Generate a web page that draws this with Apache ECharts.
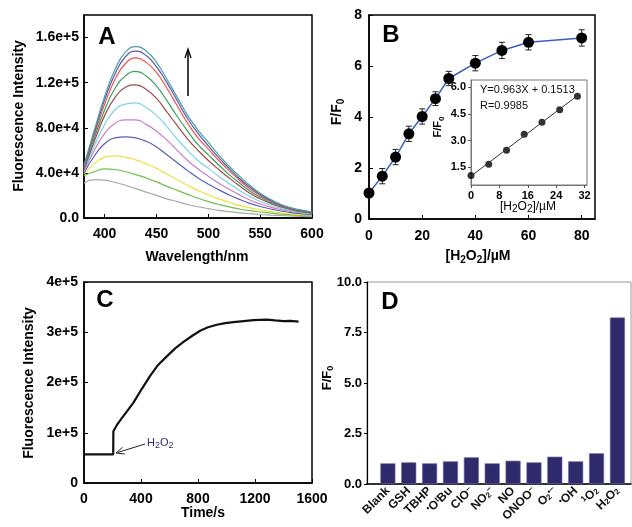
<!DOCTYPE html>
<html>
<head>
<meta charset="utf-8">
<script src="https://cdn.jsdelivr.net/npm/echarts@6/dist/echarts.min.js"></script>
<style>
  html, body { margin: 0; padding: 0; background: #fff; }
  #main { width: 632px; height: 527px; }
</style>
</head>
<body>
<div id="main"></div>
<script>
// ---- panel A: emission spectra (intensity in units of 1e3) ----
const wavelengths = [380, 390, 400, 410, 420, 430, 440, 450, 460, 470, 480, 490, 500, 510, 520, 530, 540, 550, 560, 570, 580, 590, 600];
// bottom curve first
const spectraK = [
  [31, 34, 33.5, 31.5, 29, 26, 23, 20, 17, 14.5, 12, 10, 8.3, 6.8, 5.6, 4.6, 3.8, 3.1, 2.6, 2.2, 1.8, 1.5, 1.3],
  [37.5, 41, 43.5, 43, 41, 38.5, 35.5, 32, 28, 24.5, 21, 17.5, 14.5, 12, 9.8, 8, 6.5, 5.3, 4.3, 3.5, 2.8, 2.3, 2],
  [39, 48, 54, 55, 54, 51.5, 48, 44, 39, 34, 29, 24.5, 20.5, 17, 14, 11.2, 9, 7.2, 5.8, 4.6, 3.7, 3, 2.5],
  [40, 55, 66, 71, 72, 71, 68, 63, 56, 49, 42, 35.5, 30, 25, 20.5, 16.5, 13, 10.2, 8, 6.2, 4.8, 3.8, 3],
  [41, 60, 75, 84, 87, 87, 83, 77, 69, 60, 51, 43.5, 37, 31, 25.5, 20.5, 16, 12.5, 9.6, 7.4, 5.7, 4.5, 3.6],
  [42, 64, 83, 96, 101, 102, 98, 91, 81, 70, 60, 51, 44, 37, 30.5, 24.5, 19, 14.8, 11.3, 8.6, 6.5, 5, 4],
  [43, 68, 91, 107, 116, 118, 114, 106, 94, 82, 70, 60, 51, 43, 35.5, 28.5, 22, 17, 13, 9.8, 7.3, 5.6, 4.4],
  [44, 71, 96, 115, 126, 130, 126, 117, 104, 90, 77, 65, 56, 47, 38.5, 31, 24, 18.5, 14, 10.5, 7.7, 6, 4.6],
  [45, 74, 101, 123, 137, 142, 138, 129, 115, 99.5, 84, 71, 61, 51, 42, 33.5, 26, 20, 15, 11, 8, 6.2, 4.8],
  [46, 76, 105, 128, 143, 148, 144, 134, 120, 104, 88, 75, 64, 53.5, 44, 35, 27.5, 21, 15.5, 11.5, 8.5, 6.5, 5],
  [47, 78, 108, 132, 147, 152, 148, 138, 123, 107, 91, 78, 67, 56, 46, 37, 29, 22, 16.5, 12, 9, 7, 5.5]
];
const spectraColors = ['#a8a8a8', '#6cc04a', '#efe043', '#5a5fb8', '#c77fc9', '#7dd3e8',
  '#9c4a4a', '#3d9e63', '#ef5350', '#5b58a8', '#4aa0a6'];

// ---- panel B: titration ----
const conc = [0, 5, 10, 15, 20, 25, 30, 40, 50, 60, 80];
const ratio = [1.02, 1.68, 2.43, 3.34, 4.02, 4.72, 5.51, 6.11, 6.61, 6.93, 7.1];
const ratioErr = [0.05, 0.3, 0.3, 0.3, 0.3, 0.27, 0.28, 0.3, 0.32, 0.3, 0.32];
// inset: linear range
const insetConc = [0, 5, 10, 15, 20, 25, 30];
const insetRatio = [1.04, 1.67, 2.45, 3.35, 4.02, 4.73, 5.48];
const fitLine = [[0, 1.0], [30, 5.52]];

// ---- panel C: time course ----
const times = [0, 100, 205, 206, 215, 230, 260, 300, 347, 405, 464, 520, 581, 640, 698, 760, 815, 870, 932, 990, 1049, 1120, 1190, 1283, 1340, 1400, 1450, 1506];
const timeIntensity = [57000, 57000, 57000, 103000, 104000, 115000, 127000, 142000, 160000, 187000, 213000, 235000, 252000, 268000, 281000, 293000, 303000, 310000, 315000, 318000, 320000, 322000, 324000, 325000, 323500, 322000, 322500, 321000];

// ---- panel D: selectivity ----
const agents = ['Blank', 'GSH', 'TBHP', '{p|•}O{p|t}Bu', 'ClO{p|−}', 'NO{s|2}{p|−}', 'NO', 'ONOO{p|−}',
  'O{s|2}{p|•−}', '{p|•}OH', '{p|1}O{s|2}', 'H{s|2}O{s|2}'];
const selectivity = [1.02, 1.07, 1.02, 1.12, 1.32, 1.02, 1.15, 1.07, 1.35, 1.12, 1.52, 8.24];

const FONT = 'Liberation Sans, Arial, sans-serif';
const NARROW = 'Liberation Sans Narrow, Liberation Sans, Arial, sans-serif';
const chart = echarts.init(document.getElementById('main'));

function frame(left, top, width, height, color, bw) {
  return { left, top, width, height, show: true, borderColor: color, borderWidth: bw, outerBoundsMode: 'none' };
}

function valAxis(grid, opts, tickInside, fontSize) {
  return Object.assign({
    gridIndex: grid, type: 'value',
    splitLine: { show: false },
    axisLine: { show: true, onZero: false, lineStyle: { color: '#000', width: 1.5 } },
    axisTick: { show: true, inside: tickInside, length: 4, lineStyle: { color: '#000', width: 1 } },
    axisLabel: { color: '#000', fontFamily: FONT, fontWeight: 'bold', fontSize: fontSize || 14, margin: 6 }
  }, opts);
}

const bold = (size) => ({ fontFamily: FONT, fontWeight: 'bold', fontSize: size, lineHeight: size + 4 });
const subStyle = (size) => ({ fontFamily: FONT, fontWeight: 'bold', fontSize: size, lineHeight: 8, verticalAlign: 'bottom' });

function label(x, y, text, size, rotate, extra) {
  return {
    type: 'text', x, y, rotation: rotate ? Math.PI / 2 : 0, silent: true,
    style: Object.assign({
      text, fill: '#000', align: 'center', verticalAlign: 'middle',
      font: 'bold ' + size + 'px ' + FONT,
      rich: { n: Object.assign({ fill: '#000' }, bold(size)), s: Object.assign({ fill: '#000' }, subStyle(Math.round(size * 0.72))) }
    }, extra || {})
  };
}

function arrowHead(tip, tail, len, half) {
  const dx = tail[0] - tip[0], dy = tail[1] - tip[1];
  const d = Math.sqrt(dx * dx + dy * dy);
  const ux = dx / d, uy = dy / d;
  return [[tip[0] + len * ux - half * uy, tip[1] + len * uy + half * ux], tip,
          [tip[0] + len * ux + half * uy, tip[1] + len * uy - half * ux]];
}

const series = [];
spectraK.forEach((curve, k) => {
  series.push({
    type: 'line', xAxisIndex: 0, yAxisIndex: 0, smooth: true, showSymbol: false, silent: true,
    data: wavelengths.map((w, i) => [w, curve[i] * 1000]),
    lineStyle: { width: 1.2, color: spectraColors[k] }, itemStyle: { color: spectraColors[k] }
  });
});

series.push({
  type: 'custom', xAxisIndex: 1, yAxisIndex: 1, silent: true, z: 3,
  data: conc.map((c, i) => [c, ratio[i] - ratioErr[i], ratio[i] + ratioErr[i]]),
  renderItem: function (params, api) {
    const lo = api.coord([api.value(0), api.value(1)]);
    const hi = api.coord([api.value(0), api.value(2)]);
    const st = { stroke: '#222', lineWidth: 1 };
    return { type: 'group', children: [
      { type: 'line', shape: { x1: lo[0], y1: lo[1], x2: hi[0], y2: hi[1] }, style: st },
      { type: 'line', shape: { x1: lo[0] - 3, y1: lo[1], x2: lo[0] + 3, y2: lo[1] }, style: st },
      { type: 'line', shape: { x1: hi[0] - 3, y1: hi[1], x2: hi[0] + 3, y2: hi[1] }, style: st }
    ] };
  }
});
series.push({
  type: 'line', xAxisIndex: 1, yAxisIndex: 1, silent: true, z: 4,
  data: conc.map((c, i) => [c, ratio[i]]),
  symbol: 'circle', symbolSize: 11, itemStyle: { color: '#000' },
  lineStyle: { color: '#3a5fc0', width: 1.5 }
});
series.push({
  type: 'line', xAxisIndex: 2, yAxisIndex: 2, silent: true, data: fitLine,
  showSymbol: false, lineStyle: { color: '#333', width: 1 }
});
series.push({
  type: 'scatter', xAxisIndex: 2, yAxisIndex: 2, silent: true, symbolSize: 7,
  data: insetConc.map((c, i) => [c, insetRatio[i]]), itemStyle: { color: '#000' }
});
series.push({
  type: 'line', xAxisIndex: 3, yAxisIndex: 3, silent: true, showSymbol: false,
  data: times.map((t, i) => [t, timeIntensity[i]]),
  lineStyle: { color: '#111', width: 2.2 }
});
series.push({
  type: 'bar', xAxisIndex: 4, yAxisIndex: 4, silent: true, barWidth: 15,
  data: selectivity.map((v, i) => [i, v]),
  itemStyle: { color: '#2f2a6c', borderColor: '#6a66a8', borderWidth: 0.6 }
});

const option = {
  animation: false,
  backgroundColor: '#fff',
  grid: [
    frame(84, 15, 228, 203, '#000', 1.5),
    frame(369, 15, 226, 204, '#000', 1.5),
    frame(471, 80, 116, 105, '#777', 1),
    frame(84, 282, 228, 201, '#000', 1.5),
    frame(367, 282, 264, 202, '#999', 1)
  ],
  xAxis: [
    valAxis(0, { min: 380, max: 600,
      axisLabel: { color: '#000', fontFamily: FONT, fontWeight: 'bold', fontSize: 14, margin: 9, customValues: [400, 450, 500, 550, 600] },
      axisTick: { inside: true, length: 4, lineStyle: { color: '#000' }, customValues: [400, 450, 500, 550, 600] } }, true),
    valAxis(1, { min: 0, max: 85,
      axisLabel: { color: '#000', fontFamily: FONT, fontWeight: 'bold', fontSize: 14, margin: 10, customValues: [0, 20, 40, 60, 80] },
      axisTick: { inside: true, length: 4, lineStyle: { color: '#000' }, customValues: [0, 20, 40, 60, 80] } }, true),
    valAxis(2, { min: 0, max: 32.7,
      axisLine: { show: true, onZero: false, lineStyle: { color: '#777', width: 1 } },
      axisLabel: { color: '#000', fontFamily: FONT, fontWeight: 'bold', fontSize: 11, margin: 5, customValues: [0, 8, 16, 24, 32] },
      axisTick: { inside: false, length: 3, lineStyle: { color: '#555' }, customValues: [0, 8, 16, 24, 32] } }, false),
    valAxis(3, { min: 0, max: 1600, interval: 400,
      axisLabel: { color: '#000', fontFamily: FONT, fontWeight: 'bold', fontSize: 14, margin: 9,
        formatter: (v) => String(v) } }, true),
    valAxis(4, { min: -1, max: 11.65, interval: 1,
      axisTick: { show: false },
      axisLabel: {
        color: '#111', fontFamily: NARROW, fontWeight: 'bold', fontSize: 12, rotate: 45, margin: 5,
        formatter: (v) => (Number.isInteger(v) && v >= 0 && v < agents.length) ? agents[v] : '',
        rich: {
          s: { fontFamily: NARROW, fontWeight: 'bold', fontSize: 8, color: '#111', lineHeight: 6, verticalAlign: 'bottom' },
          p: { fontFamily: NARROW, fontWeight: 'bold', fontSize: 8, color: '#111', lineHeight: 6, verticalAlign: 'top' }
        }
      } }, false)
  ],
  yAxis: [
    valAxis(0, { min: 0, max: 180000,
      axisLabel: { color: '#000', fontFamily: FONT, fontWeight: 'bold', fontSize: 14, margin: 5,
        customValues: [0, 40000, 80000, 120000, 160000],
        formatter: (v) => v === 0 ? '0.0' : v.toExponential(1) },
      axisTick: { inside: true, length: 4, lineStyle: { color: '#000' }, customValues: [0, 40000, 80000, 120000, 160000] } }, true),
    valAxis(1, { min: 0, max: 8, interval: 2,
      axisLabel: { color: '#000', fontFamily: FONT, fontWeight: 'bold', fontSize: 14, margin: 7 } }, true),
    valAxis(2, { min: 0.5, max: 6.4,
      axisLine: { show: true, onZero: false, lineStyle: { color: '#777', width: 1 } },
      axisLabel: { color: '#000', fontFamily: FONT, fontWeight: 'bold', fontSize: 11, margin: 5,
        customValues: [1.5, 3, 4.5, 6], formatter: (v) => v.toFixed(1) },
      axisTick: { inside: false, length: 3, lineStyle: { color: '#555' }, customValues: [1.5, 3, 4.5, 6] } }, false),
    valAxis(3, { min: 0, max: 400000, interval: 100000,
      axisLabel: { color: '#000', fontFamily: FONT, fontWeight: 'bold', fontSize: 14, margin: 6,
        formatter: (v) => v === 0 ? '0' : v.toExponential(0) } }, true),
    valAxis(4, { min: 0, max: 10, interval: 2.5,
      axisLine: { show: true, onZero: false, lineStyle: { color: '#000', width: 1.2 } },
      axisTick: { inside: false, length: 3, lineStyle: { color: '#000' } },
      axisLabel: { color: '#000', fontFamily: NARROW, fontWeight: 'bold', fontSize: 13, margin: 5,
        formatter: (v) => v.toFixed(1) } }, false)
  ],
  series: series
};
chart.setOption(option);

// annotations: panel letters, axis titles, arrows, inset text
const cTip = [116, 453], cTail = [145, 444];
chart.setOption({
  graphic: [
    label(107, 37, 'A', 24), label(391, 35, 'B', 24), label(105, 300, 'C', 24), label(390, 302, 'D', 24),
    label(19, 116, 'Fluorescence Intensity', 14, true),
    label(197, 257, 'Wavelength/nm', 14),
    label(337, 112, '{n|F/F}{s|0}', 14, true),
    label(478, 256, '{n|[H}{s|2}{n|O}{s|2}{n|]/µM}', 14),
    label(29, 383, 'Fluorescence Intensity', 14, true),
    label(203, 513, 'Time/s', 14),
    label(327, 378, '{n|F/F}{s|0}', 13, true),
    label(438, 127, '{n|F/F}{s|0}', 11, true),
    {
      type: 'text', x: 528, y: 207, silent: true,
      style: { text: '{n|[H}{s|2}{n|O}{s|2}{n|]/µM}', align: 'center', verticalAlign: 'middle',
        rich: { n: { fontFamily: FONT, fontSize: 12, lineHeight: 15, fill: '#000' },
                s: { fontFamily: FONT, fontSize: 10, lineHeight: 8, verticalAlign: 'bottom', fill: '#000' } } }
    },
    { type: 'text', x: 480, y: 90, silent: true,
      style: { text: 'Y=0.963X + 0.1513', font: '11px ' + FONT, fill: '#111', verticalAlign: 'middle' } },
    { type: 'text', x: 480, y: 106, silent: true,
      style: { text: 'R=0.9985', font: '11px ' + FONT, fill: '#111', verticalAlign: 'middle' } },
    // rising-intensity arrow in A
    { type: 'line', silent: true, shape: { x1: 188, y1: 96, x2: 188, y2: 50 }, style: { stroke: '#000', lineWidth: 1.5 } },
    { type: 'polyline', silent: true, shape: { points: [[185, 58], [188, 49], [191, 58]] }, style: { stroke: '#000', lineWidth: 1.3, fill: null } },
    // H2O2 addition arrow in C
    { type: 'line', silent: true, shape: { x1: cTail[0], y1: cTail[1], x2: cTip[0] + 2, y2: cTip[1] - 0.6 }, style: { stroke: '#222', lineWidth: 1 } },
    { type: 'polyline', silent: true, shape: { points: arrowHead(cTip, cTail, 8, 3.5) }, style: { stroke: '#222', lineWidth: 1, fill: null } },
    {
      type: 'text', x: 147, y: 443, silent: true,
      style: { text: '{n|H}{s|2}{n|O}{s|2}', verticalAlign: 'middle',
        rich: { n: { fontFamily: FONT, fontSize: 11, lineHeight: 14, fill: '#2e2e72' },
                s: { fontFamily: FONT, fontSize: 9, lineHeight: 8, verticalAlign: 'bottom', fill: '#2e2e72' } } }
    }
  ]
});
</script>
</body>
</html>
